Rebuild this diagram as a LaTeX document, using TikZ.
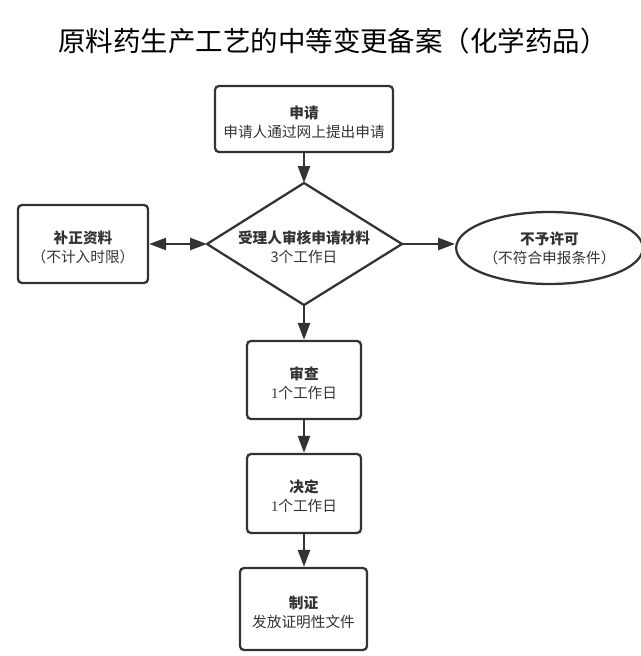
\documentclass[tikz,border=0pt]{standalone}
\usepackage{fontspec}
\setmainfont{Liberation Serif}
\newfontfamily\cjk{Noto Sans CJK SC}
\usetikzlibrary{shapes.geometric,arrows.meta}
\definecolor{ink}{HTML}{333333}
\newcommand\headln[1]{\rule{0pt}{14pt}\textbf{#1}}
\tikzset{
  x=0.75pt, y=-0.75pt,
  txt/.style={align=center, text=ink, font=\cjk\fontsize{11pt}{14.25pt}\selectfont, inner sep=0pt},
  box/.style={txt, draw=ink, line width=1.7pt, rounded corners=3pt},
  ell/.style={txt, shape=ellipse, draw=ink, line width=1.7pt},
  dline/.style={draw=ink, line width=1.7pt, line join=round},
  arr/.style={draw=ink, line width=1.8pt, -{Triangle[length=12.75pt,width=9pt]}},
  arrtwo/.style={draw=ink, line width=1.8pt, {Triangle[length=12.75pt,width=9pt]}-{Triangle[length=12.75pt,width=9pt]}}
}
\begin{document}
\begin{tikzpicture}
\useasboundingbox (0,0) rectangle (641,656);
\node[font=\cjk\fontsize{20.6pt}{24pt}\selectfont, text=black] (title) at (333,41) {原料药生产工艺的中等变更备案（化学药品）};
\node[box, minimum width=133.5pt, minimum height=49.5pt] (apply) at (304,119) {\headln{申请}\\申请人通过网上提出申请};
% diamond drawn from named corner coordinates
\coordinate (checkN) at (304,183);
\coordinate (checkS) at (304,305);
\coordinate (checkW) at (207,244);
\coordinate (checkE) at (402,244);
\draw[dline] (checkN) -- (checkE) -- (checkS) -- (checkW) -- cycle;
\node[txt] (check) at (304,247) {\textbf{受理人审核申请材料}\\3个工作日};
\node[box, minimum width=97.5pt, minimum height=58.5pt] (fix) at (83,244) {\headln{补正资料}\\（不计入时限）};
\node[ell, minimum width=133.5pt, minimum height=54pt] (reject) at (549.5,248) {\textbf{不予许可}\\（不符合申报条件）};
\node[box, minimum width=85.5pt, minimum height=58.5pt] (review) at (304,380) {\headln{审查}\\{\rmfamily 1}个工作日};
\node[box, minimum width=85.5pt, minimum height=59.25pt] (decide) at (304,493.5) {\headln{决定}\\{\rmfamily 1}个工作日};
\node[box, minimum width=95.25pt, minimum height=61.5pt] (issue) at (303.5,609) {\headln{制证}\\发放证明性文件};
\draw[arr] (apply.south) -- (checkN);
\draw[arrtwo] (fix.east) -- (checkW);
\draw[arr] (checkE) -- (checkE -| reject.west);
\draw[arr] (checkS) -- (review.north);
\draw[arr] (review.south) -- (decide.north);
\draw[arr] (decide.south) -- (decide.south |- issue.north);
\end{tikzpicture}
\end{document}
